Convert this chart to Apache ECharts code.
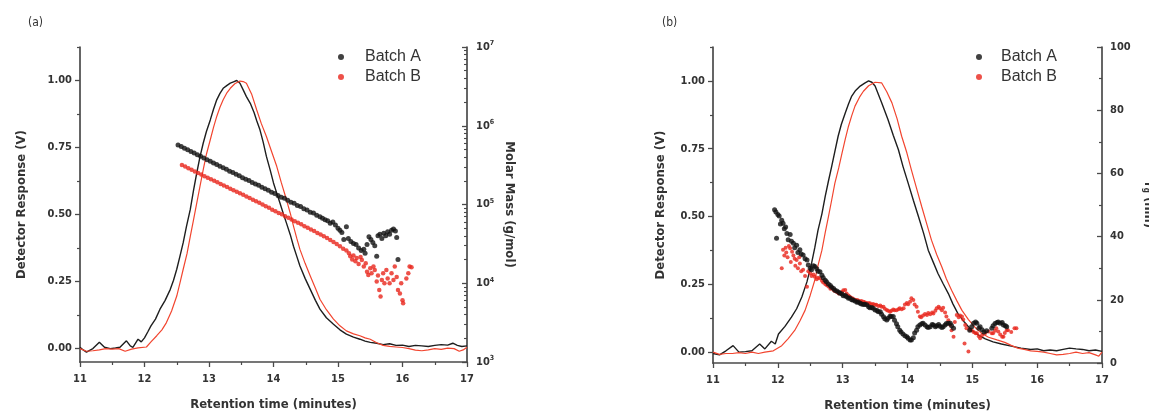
<!DOCTYPE html>
<html><head><meta charset="utf-8">
<script src="https://cdn.jsdelivr.net/npm/echarts@6/dist/echarts.min.js"></script>
<style>html,body{margin:0;padding:0;background:#fff}#c{width:1149px;height:415px}</style>
</head><body><div id="c"></div>
<script>
// ---------- tick labels ----------
const xTicks = [11, 12, 13, 14, 15, 16, 17];
const leftMajor = [0, 0.25, 0.5, 0.75, 1.0];
const leftMinor = [0.125, 0.375, 0.625, 0.875, 1.125];
const logDecades = [3, 4, 5, 6, 7];
const logMinorMult = [2, 3, 4, 5, 6, 7, 8, 9];
const rgTicks = [0, 20, 40, 60, 80, 100];

// ---------- panel (a): detector response (V) ----------
const detA_a = [[11.00,0.005],[11.05,-0.005],[11.10,-0.013],[11.20,0.000],[11.30,0.024],[11.38,0.005],[11.47,0.000],[11.55,0.002],[11.62,0.005],[11.72,0.029],[11.78,0.010],[11.82,0.005],[11.90,0.035],[11.95,0.025],[12.00,0.040],[12.05,0.062],[12.10,0.085],[12.17,0.110],[12.24,0.147],[12.32,0.180],[12.40,0.221],[12.45,0.255],[12.50,0.296],[12.55,0.345],[12.60,0.395],[12.65,0.455],[12.71,0.519],[12.76,0.590],[12.81,0.655],[12.86,0.715],[12.91,0.766],[12.96,0.810],[13.02,0.853],[13.07,0.893],[13.12,0.928],[13.17,0.952],[13.22,0.971],[13.28,0.982],[13.33,0.990],[13.38,0.995],[13.43,1.000],[13.48,0.990],[13.53,0.965],[13.58,0.940],[13.64,0.915],[13.70,0.880],[13.74,0.850],[13.79,0.816],[13.84,0.770],[13.89,0.717],[13.95,0.665],[14.00,0.618],[14.05,0.580],[14.10,0.543],[14.15,0.505],[14.20,0.469],[14.26,0.425],[14.31,0.382],[14.36,0.345],[14.41,0.308],[14.49,0.262],[14.57,0.221],[14.65,0.180],[14.72,0.147],[14.82,0.115],[14.93,0.091],[15.03,0.070],[15.13,0.054],[15.24,0.043],[15.34,0.035],[15.42,0.028],[15.50,0.023],[15.60,0.020],[15.70,0.015],[15.80,0.018],[15.90,0.012],[16.00,0.013],[16.10,0.008],[16.20,0.012],[16.30,0.010],[16.40,0.008],[16.50,0.012],[16.60,0.015],[16.70,0.013],[16.78,0.020],[16.85,0.012],[16.92,0.008],[17.00,0.010]];
const detB_a = [[11.00,0.000],[11.10,-0.010],[11.20,-0.008],[11.30,-0.005],[11.40,0.000],[11.50,-0.002],[11.60,0.000],[11.70,-0.010],[11.80,-0.002],[11.90,0.003],[12.03,0.006],[12.10,0.025],[12.19,0.048],[12.27,0.070],[12.34,0.097],[12.42,0.140],[12.50,0.196],[12.55,0.245],[12.60,0.296],[12.66,0.355],[12.71,0.419],[12.76,0.480],[12.81,0.543],[12.86,0.605],[12.91,0.667],[12.96,0.725],[13.02,0.779],[13.07,0.825],[13.12,0.866],[13.17,0.900],[13.22,0.928],[13.28,0.955],[13.33,0.971],[13.40,0.988],[13.48,0.998],[13.53,0.996],[13.58,0.990],[13.66,0.950],[13.74,0.890],[13.81,0.840],[13.89,0.791],[13.97,0.735],[14.05,0.680],[14.12,0.620],[14.20,0.556],[14.26,0.505],[14.31,0.457],[14.36,0.412],[14.41,0.370],[14.49,0.318],[14.57,0.271],[14.65,0.225],[14.72,0.184],[14.82,0.145],[14.93,0.110],[15.03,0.085],[15.13,0.066],[15.24,0.055],[15.34,0.048],[15.42,0.040],[15.50,0.035],[15.60,0.022],[15.70,0.012],[15.80,0.008],[15.90,0.006],[16.00,0.004],[16.10,0.000],[16.20,-0.006],[16.30,-0.008],[16.40,-0.005],[16.50,0.000],[16.60,-0.003],[16.70,0.002],[16.80,0.000],[16.88,-0.010],[16.94,-0.005],[17.00,0.005]];

// ---------- panel (a): molar mass (g/mol) ----------
const massA = [[12.52,570000],[12.57,545000],[12.62,518000],[12.67,495000],[12.72,470000],[12.77,451000],[12.82,428000],[12.87,409000],[12.92,390000],[12.97,371000],[13.02,355000],[13.07,337000],[13.12,322000],[13.17,306000],[13.22,293000],[13.27,280000],[13.32,265000],[13.37,254000],[13.42,243000],[13.47,231000],[13.52,219000],[13.57,210000],[13.62,201000],[13.67,190000],[13.72,182000],[13.77,175000],[13.82,165000],[13.87,158000],[13.92,152000],[13.97,143000],[14.02,138000],[14.07,130000],[14.12,124000],[14.17,120000],[14.22,113000],[14.27,107000],[14.32,104000],[14.37,97000],[14.42,94000],[14.47,88000],[14.52,85000],[14.57,80000],[14.62,78000],[14.67,73000],[14.72,70000],[14.76,67000],[14.80,64000],[14.84,62000],[14.88,57700],[14.92,60000],[14.96,55000],[15.00,50000],[15.03,47000],[15.06,44000],[15.09,36000],[15.13,52000],[15.16,37000],[15.20,34000],[15.24,32000],[15.28,31000],[15.32,28000],[15.36,26000],[15.40,27000],[15.42,24000],[15.45,31000],[15.48,39000],[15.51,36000],[15.54,33000],[15.57,30000],[15.60,22000],[15.62,40000],[15.65,42000],[15.68,37000],[15.71,43000],[15.74,40000],[15.77,45000],[15.80,42000],[15.83,47000],[15.86,49000],[15.89,46000],[15.91,38000],[15.93,20000]];
const massB = [[12.58,318000],[12.63,303000],[12.68,289000],[12.73,276000],[12.78,263000],[12.83,251000],[12.88,240000],[12.93,229000],[12.98,219000],[13.03,209000],[13.08,200000],[13.13,191000],[13.18,182000],[13.23,174000],[13.28,167000],[13.33,159000],[13.38,152000],[13.43,145000],[13.48,139000],[13.53,133000],[13.58,126000],[13.63,121000],[13.68,115000],[13.73,110000],[13.78,105000],[13.83,100000],[13.88,95000],[13.93,91000],[13.98,86000],[14.03,82000],[14.08,78000],[14.13,75000],[14.18,71000],[14.23,68000],[14.28,64500],[14.33,61500],[14.38,58500],[14.43,56000],[14.48,53000],[14.53,50500],[14.58,48000],[14.63,46000],[14.68,43500],[14.73,41500],[14.78,39500],[14.83,37500],[14.88,35500],[14.93,33500],[14.98,31500],[15.03,29500],[15.08,27500],[15.13,26000],[15.17,24000],[15.19,22000],[15.22,20000],[15.24,22500],[15.27,19000],[15.29,21000],[15.32,17500],[15.35,21500],[15.37,19700],[15.40,16300],[15.43,18000],[15.45,14000],[15.47,12700],[15.50,15500],[15.52,13400],[15.55,16300],[15.57,14700],[15.60,10500],[15.62,12500],[15.64,8200],[15.66,6800],[15.68,11000],[15.70,13400],[15.72,10000],[15.75,14700],[15.77,11500],[15.80,10000],[15.83,13400],[15.86,11000],[15.88,16300],[15.91,12000],[15.93,8200],[15.96,7400],[15.98,10000],[16.00,6100],[16.01,5560],[16.06,11500],[16.09,13400],[16.11,16300],[16.14,16000]];

// ---------- panel (b): detector response (V) ----------
const detA_b = [[11.00,-0.005],[11.10,-0.010],[11.20,0.005],[11.31,0.024],[11.40,0.000],[11.50,0.002],[11.60,0.005],[11.72,0.030],[11.80,0.012],[11.90,0.040],[11.96,0.030],[12.01,0.067],[12.11,0.095],[12.21,0.129],[12.29,0.160],[12.37,0.203],[12.45,0.260],[12.52,0.327],[12.57,0.385],[12.62,0.450],[12.68,0.510],[12.73,0.573],[12.78,0.630],[12.83,0.684],[12.88,0.740],[12.93,0.796],[12.98,0.840],[13.04,0.882],[13.09,0.915],[13.14,0.944],[13.20,0.965],[13.27,0.981],[13.34,0.992],[13.40,1.000],[13.45,0.995],[13.50,0.981],[13.60,0.920],[13.70,0.857],[13.78,0.800],[13.86,0.746],[13.93,0.685],[14.01,0.623],[14.09,0.560],[14.17,0.499],[14.25,0.437],[14.32,0.376],[14.40,0.330],[14.47,0.290],[14.55,0.252],[14.63,0.216],[14.70,0.178],[14.78,0.141],[14.88,0.110],[14.99,0.080],[15.10,0.062],[15.20,0.049],[15.32,0.038],[15.45,0.030],[15.60,0.022],[15.75,0.015],[15.90,0.010],[16.00,0.012],[16.10,0.005],[16.20,0.008],[16.30,0.005],[16.40,0.010],[16.50,0.015],[16.60,0.012],[16.70,0.010],[16.80,0.005],[16.90,0.008],[17.00,0.003]];
const detB_b = [[11.00,0.000],[11.10,-0.008],[11.20,-0.005],[11.30,-0.005],[11.40,-0.002],[11.50,-0.005],[11.60,0.000],[11.70,-0.005],[11.80,0.000],[11.93,0.005],[12.06,0.024],[12.16,0.050],[12.26,0.080],[12.34,0.115],[12.42,0.154],[12.50,0.210],[12.57,0.265],[12.62,0.320],[12.68,0.376],[12.73,0.440],[12.78,0.499],[12.83,0.560],[12.88,0.623],[12.94,0.680],[12.99,0.734],[13.04,0.785],[13.09,0.833],[13.14,0.872],[13.19,0.907],[13.26,0.940],[13.32,0.962],[13.40,0.982],[13.50,0.995],[13.60,0.993],[13.68,0.960],[13.76,0.919],[13.84,0.860],[13.91,0.796],[13.99,0.735],[14.06,0.672],[14.14,0.604],[14.22,0.536],[14.30,0.470],[14.37,0.413],[14.45,0.360],[14.53,0.314],[14.60,0.270],[14.68,0.228],[14.76,0.190],[14.84,0.154],[14.94,0.120],[15.04,0.092],[15.14,0.070],[15.25,0.055],[15.38,0.045],[15.50,0.036],[15.60,0.025],[15.70,0.015],[15.80,0.010],[15.90,0.005],[16.00,0.003],[16.10,0.000],[16.20,-0.005],[16.30,-0.010],[16.40,-0.008],[16.50,-0.005],[16.60,0.000],[16.70,-0.005],[16.80,-0.002],[16.90,-0.010],[16.95,-0.015],[17.00,0.000]];

// ---------- panel (b): r_g (nm) ----------
const rgA = [[11.95,48.5],[11.97,47.8],[11.98,39.5],[12.00,47.0],[12.02,46.5],[12.04,44.0],[12.06,45.2],[12.08,44.2],[12.10,42.5],[12.12,43.0],[12.14,41.0],[12.16,39.0],[12.19,40.7],[12.21,38.5],[12.24,37.9],[12.26,36.5],[12.29,37.3],[12.31,35.0],[12.34,35.8],[12.36,34.5],[12.39,34.2],[12.42,33.0],[12.45,32.6],[12.47,31.0],[12.50,30.0],[12.52,29.5],[12.55,30.8],[12.57,30.5],[12.60,29.8],[12.62,29.0],[12.65,28.9],[12.68,27.8],[12.70,27.0],[12.73,26.2],[12.75,25.7],[12.78,25.0],[12.81,24.5],[12.83,24.0],[12.86,23.6],[12.88,23.0],[12.91,22.8],[12.94,22.4],[12.96,22.1],[12.99,21.8],[13.01,21.3],[13.04,21.4],[13.06,21.0],[13.09,20.5],[13.11,20.6],[13.14,20.0],[13.16,19.9],[13.19,19.6],[13.22,19.2],[13.24,19.3],[13.27,18.9],[13.29,18.7],[13.32,18.5],[13.34,18.6],[13.37,18.4],[13.40,17.8],[13.42,17.5],[13.45,17.6],[13.47,17.3],[13.50,16.8],[13.53,16.6],[13.55,16.2],[13.58,16.2],[13.60,15.4],[13.63,14.6],[13.65,14.0],[13.68,13.6],[13.70,14.2],[13.73,14.8],[13.75,14.7],[13.78,14.7],[13.80,13.5],[13.83,12.4],[13.85,11.5],[13.88,10.4],[13.90,9.8],[13.93,9.2],[13.96,8.6],[13.99,8.3],[14.01,7.8],[14.04,7.3],[14.06,7.3],[14.09,8.0],[14.11,9.5],[14.14,10.4],[14.16,11.5],[14.19,12.0],[14.22,12.4],[14.24,12.6],[14.27,12.0],[14.30,11.5],[14.32,11.2],[14.35,11.5],[14.38,12.2],[14.40,12.0],[14.43,11.5],[14.45,11.8],[14.48,12.2],[14.50,11.6],[14.53,11.2],[14.55,11.5],[14.58,12.0],[14.60,12.5],[14.63,12.6],[14.66,12.6],[14.68,11.8],[14.71,11.0],[14.96,10.4],[14.99,11.5],[15.02,12.6],[15.05,13.0],[15.07,12.6],[15.10,11.0],[15.12,11.5],[15.15,10.5],[15.18,9.8],[15.22,10.2],[15.30,11.0],[15.32,11.8],[15.35,12.5],[15.38,12.8],[15.40,13.0],[15.43,12.6],[15.46,12.8],[15.48,12.0],[15.51,11.8],[15.53,11.5]];
const rgB = [[12.06,30.0],[12.08,35.8],[12.10,34.0],[12.12,36.5],[12.13,35.0],[12.15,33.5],[12.17,37.0],[12.19,36.3],[12.20,32.0],[12.22,35.2],[12.24,34.0],[12.26,33.0],[12.27,30.8],[12.29,32.6],[12.31,30.0],[12.33,33.5],[12.34,31.5],[12.36,29.0],[12.39,29.5],[12.42,27.5],[12.45,24.1],[12.47,29.0],[12.50,28.4],[12.52,27.5],[12.55,28.0],[12.57,27.3],[12.60,26.5],[12.62,27.0],[12.65,26.8],[12.68,26.0],[12.70,25.5],[12.73,25.0],[12.75,24.7],[12.78,24.2],[12.81,23.5],[12.83,23.8],[12.86,23.1],[12.88,22.8],[12.91,22.5],[12.94,22.0],[12.96,22.1],[12.99,22.5],[13.01,23.0],[13.04,23.1],[13.06,22.0],[13.09,21.4],[13.11,21.0],[13.14,20.6],[13.16,20.3],[13.19,20.0],[13.22,19.9],[13.24,19.8],[13.27,19.5],[13.29,19.6],[13.32,19.4],[13.34,19.2],[13.37,19.0],[13.40,18.9],[13.42,18.9],[13.45,18.5],[13.47,18.7],[13.50,18.4],[13.52,18.4],[13.55,18.0],[13.58,18.2],[13.60,17.8],[13.63,17.8],[13.65,17.2],[13.68,16.8],[13.70,16.5],[13.73,16.2],[13.75,16.5],[13.78,16.9],[13.80,16.7],[13.83,16.7],[13.86,17.0],[13.88,17.3],[13.91,17.0],[13.94,17.3],[13.96,18.5],[13.99,19.0],[14.01,18.6],[14.04,19.4],[14.06,20.5],[14.09,19.9],[14.11,18.5],[14.14,17.8],[14.16,16.2],[14.19,14.7],[14.21,14.5],[14.24,15.0],[14.27,15.5],[14.30,15.2],[14.32,15.8],[14.35,15.4],[14.38,16.0],[14.40,15.7],[14.43,16.5],[14.45,17.3],[14.48,17.8],[14.50,17.3],[14.53,16.7],[14.55,17.5],[14.58,16.0],[14.60,14.7],[14.63,13.5],[14.66,12.0],[14.68,10.4],[14.71,8.3],[14.73,13.0],[14.76,15.2],[14.79,14.5],[14.81,15.0],[14.84,14.7],[14.86,13.8],[14.88,6.2],[14.89,12.0],[14.91,11.0],[14.94,3.6],[14.96,10.5],[14.99,10.4],[15.02,9.8],[15.05,9.4],[15.07,9.4],[15.10,8.5],[15.12,7.8],[15.15,8.8],[15.20,9.5],[15.25,10.0],[15.30,9.4],[15.32,9.4],[15.35,10.2],[15.37,11.0],[15.40,10.0],[15.43,9.0],[15.46,8.3],[15.48,8.3],[15.50,9.5],[15.53,10.4],[15.55,10.4],[15.60,9.8],[15.65,11.0],[15.68,11.0]];

// ---------- styling ----------
const NARROW = "'Liberation Sans Narrow','Arial Narrow','DejaVu Sans Condensed',sans-serif";
const SANS = "'Liberation Sans',Arial,Helvetica,sans-serif";
const AX = '#4a4a4a', TXT = '#333';
const BLACK_LINE = '#1e1e1e', RED_LINE = '#f2452f', BLACK_PT = '#111', RED_PT = '#e8261c';

const labelStyle = { fontSize: 11, fontWeight: 'bold', fontFamily: NARROW, color: TXT };
const nameStyle = { fontSize: 13, fontWeight: 'bold', fontFamily: NARROW, color: TXT };
const logMinor = [];
logDecades.slice(0, -1).forEach(d => logMinorMult.forEach(m => logMinor.push(d + Math.log10(m))));

function xAxisFor(gi) {
  return {
    type: 'value', gridIndex: gi, min: xTicks[0], max: xTicks[xTicks.length - 1], interval: 1,
    axisLine: { onZero: false, lineStyle: { color: AX, width: 1.7 } },
    axisTick: { length: 5, lineStyle: { color: AX, width: 1.3 } },
    minorTick: { show: true, splitNumber: 2, length: 3, lineStyle: { color: AX, width: 1.2 } },
    axisLabel: Object.assign({ margin: 12 }, labelStyle),
    splitLine: { show: false },
    name: 'Retention time (minutes)', nameLocation: 'middle', nameGap: 36, nameTextStyle: nameStyle
  };
}
function leftAxisFor(gi, min, gap) {
  return {
    type: 'value', gridIndex: gi, position: 'left', min: min, max: 1.125,
    axisLine: { show: true, onZero: false, lineStyle: { color: AX, width: 1.7 } },
    axisTick: { show: true, length: 5, customValues: leftMajor, lineStyle: { color: AX, width: 1.3 } },
    axisLabel: Object.assign({ margin: 8, customValues: leftMajor, formatter: v => v.toFixed(2) }, labelStyle),
    splitLine: { show: false },
    name: 'Detector Response (V)', nameLocation: 'middle', nameGap: gap, nameRotate: 90, nameTextStyle: nameStyle
  };
}
function leftMinorFor(gi, min) {
  return {
    type: 'value', gridIndex: gi, position: 'left', min: min, max: 1.125,
    axisLine: { show: false, onZero: false },
    axisTick: { show: true, length: 3, customValues: leftMinor, lineStyle: { color: AX, width: 1.2 } },
    axisLabel: { show: false }, splitLine: { show: false }
  };
}

const chart = echarts.init(document.getElementById('c'), null, { renderer: 'canvas' });
chart.setOption({
  backgroundColor: '#fff',
  animation: false,
  title: [
    { text: '(a)', left: 23, top: 12, textStyle: { fontSize: 12, fontWeight: 'normal', fontFamily: NARROW, color: TXT } },
    { text: '(b)', left: 657, top: 12, textStyle: { fontSize: 12, fontWeight: 'normal', fontFamily: NARROW, color: TXT } }
  ],
  legend: [
    { data: ['Batch A', 'Batch B'], orient: 'vertical', left: 333, top: 44, itemWidth: 38, itemHeight: 6, itemGap: 4,
      selectedMode: false, textStyle: { fontSize: 16, fontFamily: SANS, color: TXT, lineHeight: 16 } },
    { data: ['Batch A', 'Batch B'], orient: 'vertical', left: 971, top: 44, itemWidth: 34, itemHeight: 6, itemGap: 4,
      selectedMode: false, textStyle: { fontSize: 16, fontFamily: SANS, color: TXT, lineHeight: 16 } }
  ],
  grid: [
    { left: 80, right: 682, top: 47, bottom: 53, containLabel: false, outerBoundsMode: 'none' },
    { left: 713, right: 47, top: 47, bottom: 52, containLabel: false, outerBoundsMode: 'none' }
  ],
  xAxis: [xAxisFor(0), xAxisFor(1)],
  yAxis: [
    leftAxisFor(0, -0.05, 52),
    { type: 'log', logBase: 10, gridIndex: 0, position: 'right', min: Math.pow(10, logDecades[0]), max: Math.pow(10, logDecades[logDecades.length - 1]),
      axisLine: { show: true, onZero: false, lineStyle: { color: AX, width: 1.7 } },
      axisTick: { show: true, inside: true, length: 5, lineStyle: { color: AX, width: 1.3 } },
      axisLabel: { margin: 9, formatter: v => '{b|10}{s|' + Math.round(Math.log10(v)) + '}',
        rich: { b: { fontSize: 11, fontWeight: 'bold', fontFamily: NARROW, color: TXT, lineHeight: 14 },
                s: { fontSize: 7, fontWeight: 'bold', fontFamily: NARROW, color: TXT, verticalAlign: 'top', lineHeight: 14 } } },
      splitLine: { show: false }, minorSplitLine: { show: false },
      name: 'Molar Mass (g/mol)', nameLocation: 'middle', nameGap: 36, nameRotate: -90, nameTextStyle: nameStyle },
    leftMinorFor(0, -0.05),
    { type: 'value', gridIndex: 0, position: 'right', min: logDecades[0], max: logDecades[logDecades.length - 1],
      axisLine: { show: false, onZero: false },
      axisTick: { show: true, inside: true, length: 3, customValues: logMinor, lineStyle: { color: AX, width: 1.1 } },
      axisLabel: { show: false }, splitLine: { show: false } },
    leftAxisFor(1, -0.04, 46),
    { type: 'value', gridIndex: 1, position: 'right', min: rgTicks[0], max: rgTicks[rgTicks.length - 1], interval: 20,
      axisLine: { show: true, onZero: false, lineStyle: { color: AX, width: 1.7 } },
      axisTick: { show: true, inside: true, length: 5, lineStyle: { color: AX, width: 1.3 } },
      minorTick: { show: true, splitNumber: 2, length: 3, lineStyle: { color: AX, width: 1.2 } },
      axisLabel: Object.assign({ margin: 8 }, labelStyle),
      splitLine: { show: false },
      name: 'r{g|g} (nm)', nameLocation: 'middle', nameGap: 40, nameRotate: -90,
      nameTextStyle: Object.assign({ rich: { g: { fontSize: 8, fontWeight: 'bold', fontFamily: NARROW, color: TXT, verticalAlign: 'bottom' } } }, nameStyle) },
    leftMinorFor(1, -0.04)
  ],
  series: [
    { name: 'Detector A (a)', type: 'line', xAxisIndex: 0, yAxisIndex: 0, data: detA_a, showSymbol: false, symbol: 'none', lineStyle: { color: BLACK_LINE, width: 1.4 }, z: 2 },
    { name: 'Detector B (a)', type: 'line', xAxisIndex: 0, yAxisIndex: 0, data: detB_a, showSymbol: false, symbol: 'none', lineStyle: { color: RED_LINE, width: 1.2 }, z: 2 },
    { name: 'Batch A', type: 'scatter', xAxisIndex: 0, yAxisIndex: 1, data: massA, symbol: 'circle', symbolSize: 5, itemStyle: { color: BLACK_PT }, z: 4 },
    { name: 'Batch B', type: 'scatter', xAxisIndex: 0, yAxisIndex: 1, data: massB, symbol: 'circle', symbolSize: 4.5, itemStyle: { color: RED_PT }, z: 3 },
    { name: 'Detector A (b)', type: 'line', xAxisIndex: 1, yAxisIndex: 4, data: detA_b, showSymbol: false, symbol: 'none', lineStyle: { color: BLACK_LINE, width: 1.4 }, z: 2 },
    { name: 'Detector B (b)', type: 'line', xAxisIndex: 1, yAxisIndex: 4, data: detB_b, showSymbol: false, symbol: 'none', lineStyle: { color: RED_LINE, width: 1.2 }, z: 2 },
    { name: 'Batch A', type: 'scatter', xAxisIndex: 1, yAxisIndex: 5, data: rgA, symbol: 'circle', symbolSize: 5, itemStyle: { color: BLACK_PT }, z: 4 },
    { name: 'Batch B', type: 'scatter', xAxisIndex: 1, yAxisIndex: 5, data: rgB, symbol: 'circle', symbolSize: 4, itemStyle: { color: RED_PT }, z: 3 }
  ]
});
</script></body></html>
